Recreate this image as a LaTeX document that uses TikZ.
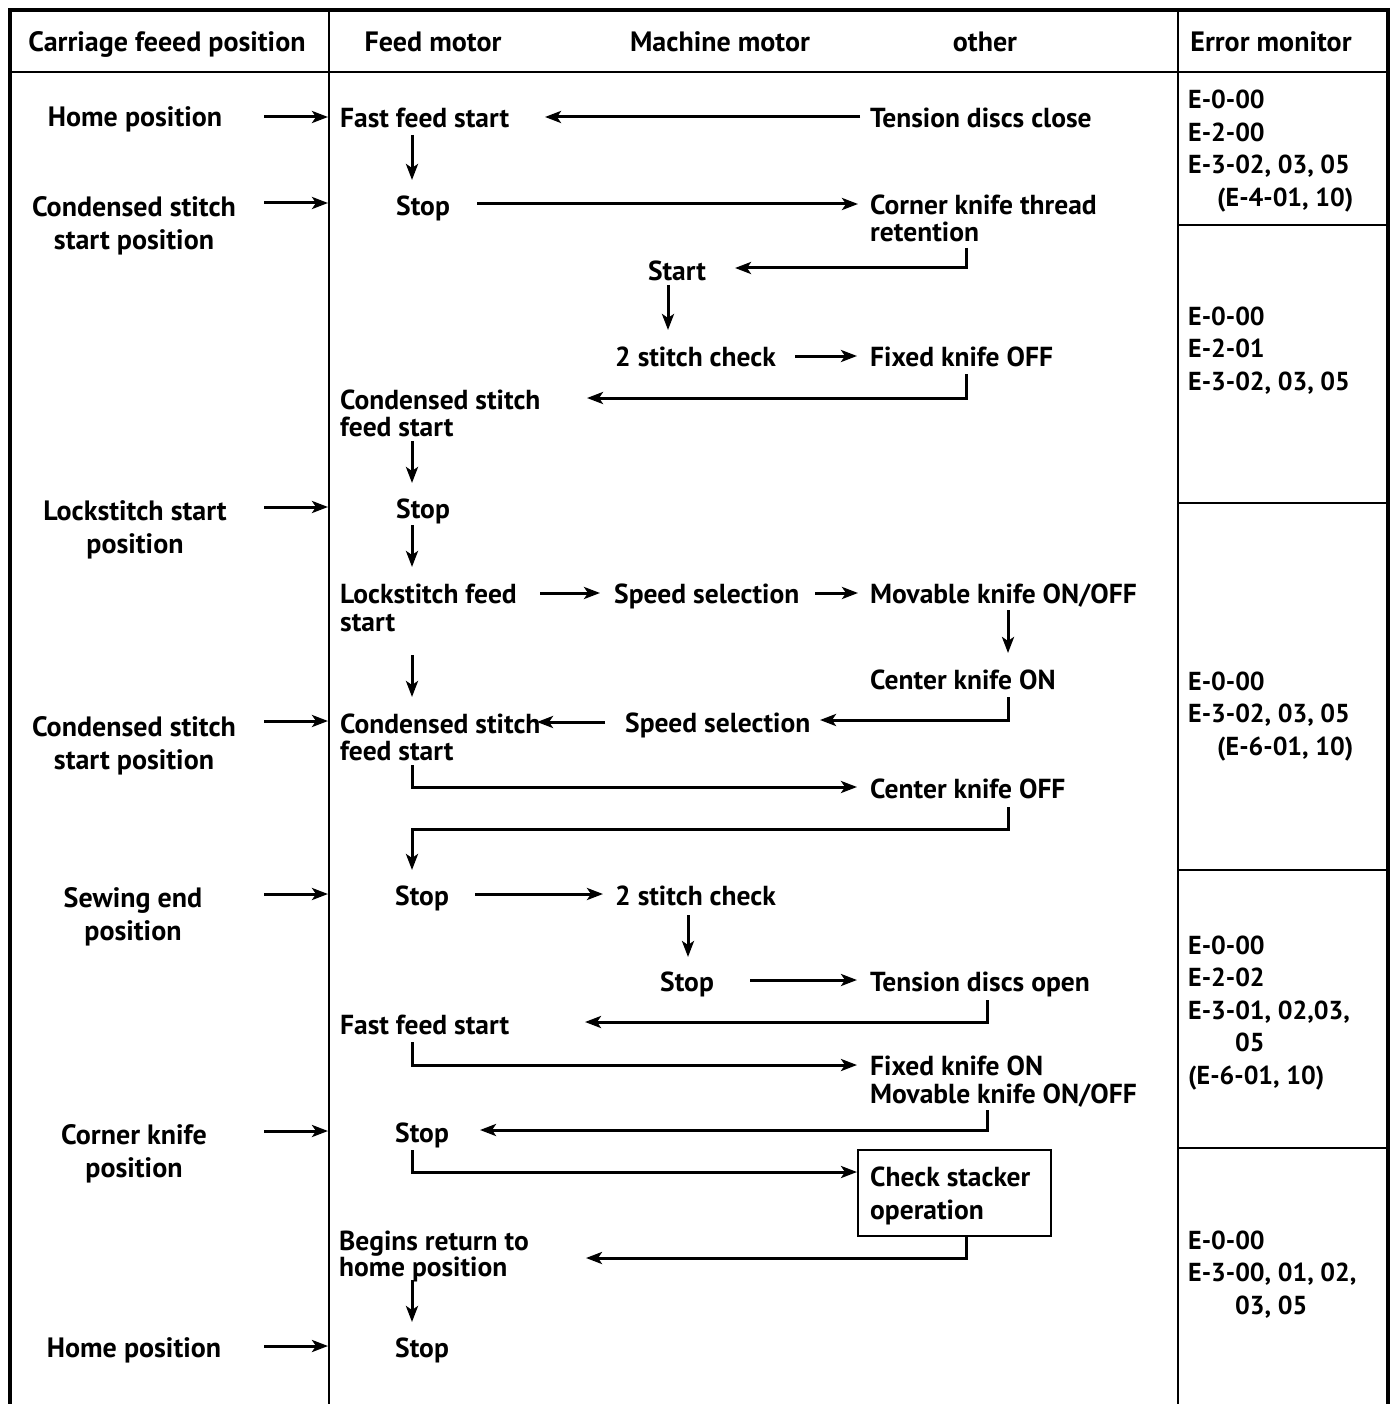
\documentclass[tikz,border=0pt]{standalone}
\usepackage{fontspec}
\setmainfont{PT Sans}
\usetikzlibrary{arrows.meta}
\begin{document}
\begin{tikzpicture}[x=1pt,y=-1pt,
  txt/.style={font=\bfseries\fontsize{27.5}{27}\selectfont, inner sep=0pt, anchor=base west, align=left},
  ctr/.style={txt, anchor=base, align=center},
  lft/.style={font=\bfseries\fontsize{28}{33}\selectfont, inner sep=0pt, anchor=base, align=center},
  hdr/.style={font=\bfseries\fontsize{28}{30}\selectfont, inner sep=0pt, anchor=base},
  err/.style={font=\bfseries\fontsize{26}{32.5}\selectfont, inner sep=0pt, anchor=base west, align=left},
  arr/.style={line width=3pt, -{Stealth[length=16pt,width=12pt,inset=4pt]}, line join=miter},
  frame/.style={line width=3.5pt},
  grid/.style={line width=2.5pt}
]
\useasboundingbox (0,0) rectangle (1396,1404);
% table
\draw[frame] (10,1404) -- (10,10) -- (1388,10) -- (1388,1404);
\draw[grid] (10,72) -- (1388,72);
\draw[grid] (329,10) -- (329,1404);
\draw[grid] (1178,10) -- (1178,1404);
\foreach \yy in {225,503,870,1148} \draw[grid] (1178,\yy) -- (1388,\yy);
% header
\node[hdr] (h1) at (167,52) {Carriage feeed position};
\node[hdr] (h2) at (433,52) {Feed motor};
\node[hdr] (h3) at (720,52) {Machine motor};
\node[hdr] (h4) at (985,52) {other};
\node[hdr] (h5) at (1271,52) {Error monitor};
% left column (base = last line)
\node[lft] (l1) at (135,127) {Home position};
\node[lft] (l2) at (134,250) {Condensed stitch\\start position};
\node[lft] (l3) at (135,553) {Lockstitch start\\position};
\node[lft] (l4) at (134,769) {Condensed stitch\\start position};
\node[lft] (l5) at (133,940) {Sewing end\\position};
\node[lft] (l6) at (134,1177) {Corner knife\\position};
\node[lft] (l7) at (134,1357) {Home position};
\foreach \yy in {117,203,507,721,894,1131,1346} \draw[arr] (264,\yy) -- (328,\yy);
% flow nodes
\node[txt] (ffs1) at (340,128) {Fast feed start};
\node[txt] (tdc) at (870,128) {Tension discs close};
\node[ctr] (stop1) at (423,216) {Stop};
\node[txt] (ckt) at (870,242) {Corner knife thread\\retention};
\node[ctr] (start) at (677,280) {Start};
\node[txt] (sc1) at (615,366) {2 stitch check};
\node[txt] (fko) at (870,366) {Fixed knife OFF};
\node[txt] (csf1) at (340,436) {Condensed stitch\\feed start};
\node[ctr] (stop2) at (423,518) {Stop};
\node[txt, font=\bfseries\fontsize{27.5}{28}\selectfont] (lfs) at (340,631) {Lockstitch feed\\start};
\node[txt] (ss1) at (614,603) {Speed selection};
\node[txt] (mko) at (870,603) {Movable knife ON/OFF};
\node[txt] (ckon) at (870,689) {Center knife ON};
\node[txt] (ss2) at (625,732) {Speed selection};
\node[txt] (csf2) at (340,760) {Condensed stitch\\feed start};
\node[txt] (ckoff) at (870,798) {Center knife OFF};
\node[ctr] (stop3) at (422,905) {Stop};
\node[txt] (sc2) at (615,905) {2 stitch check};
\node[ctr] (stop4) at (687,991) {Stop};
\node[txt] (tdo) at (870,991) {Tension discs open};
\node[txt] (ffs2) at (340,1034) {Fast feed start};
\node[txt, font=\bfseries\fontsize{27.5}{28}\selectfont] (fkon) at (870,1103) {Fixed knife ON\\Movable knife ON/OFF};
\node[ctr] (stop5) at (422,1142) {Stop};
\draw[grid] (858,1150) rectangle (1051,1236);
\node[txt, font=\bfseries\fontsize{27.5}{33}\selectfont] (csk) at (870,1219) {Check stacker\\operation};
\node[txt, font=\bfseries\fontsize{27.5}{26}\selectfont] (brh) at (339,1276) {Begins return to\\home position};
\node[ctr] (stop6) at (422,1357) {Stop};
% connectors
\draw[arr] (860,117) -- (545,117);
\draw[arr] (412,135) -- (412,180);
\draw[arr] (477,204) -- (858,204);
\draw[arr] (966,248) -- (966,268) -- (735,268);
\draw[arr] (668,285) -- (668,330);
\draw[arr] (795,356) -- (857,356);
\draw[arr] (966,374) -- (966,398) -- (587,398);
\draw[arr] (412,441) -- (412,483);
\draw[arr] (412,525) -- (412,567);
\draw[arr] (540,593) -- (600,593);
\draw[arr] (815,593) -- (858,593);
\draw[arr] (1008,610) -- (1008,653);
\draw[arr] (412,655) -- (412,697);
\draw[arr] (1008,697) -- (1008,720) -- (820,720);
\draw[arr] (605,722) -- (537,722);
\draw[arr] (412,765) -- (412,787) -- (857,787);
\draw[arr] (1008,807) -- (1008,829) -- (412,829) -- (412,870);
\draw[arr] (475,894) -- (603,894);
\draw[arr] (688,915) -- (688,957);
\draw[arr] (750,980) -- (857,980);
\draw[arr] (987,1000) -- (987,1022) -- (585,1022);
\draw[arr] (412,1042) -- (412,1065) -- (857,1065);
\draw[arr] (987,1110) -- (987,1130) -- (480,1130);
\draw[arr] (412,1150) -- (412,1172) -- (857,1172);
\draw[arr] (966,1236) -- (966,1258) -- (586,1258);
\draw[arr] (412,1280) -- (412,1322);
% error monitor (base = last line)
\node[err] (e1) at (1188,206.5) {E-0-00\\E-2-00\\E-3-02, 03, 05\\\hspace*{29pt}(E-4-01, 10)};
\node[err] (e2) at (1188,390) {E-0-00\\E-2-01\\E-3-02, 03, 05};
\node[err] (e3) at (1188,755) {E-0-00\\E-3-02, 03, 05\\\hspace*{29pt}(E-6-01, 10)};
\node[err] (e4) at (1188,1084) {E-0-00\\E-2-02\\E-3-01, 02,03,\\\hspace*{47pt}05\\(E-6-01, 10)};
\node[err] (e5) at (1188,1314) {E-0-00\\E-3-00, 01, 02,\\\hspace*{47pt}03, 05};
\end{tikzpicture}
\end{document}
